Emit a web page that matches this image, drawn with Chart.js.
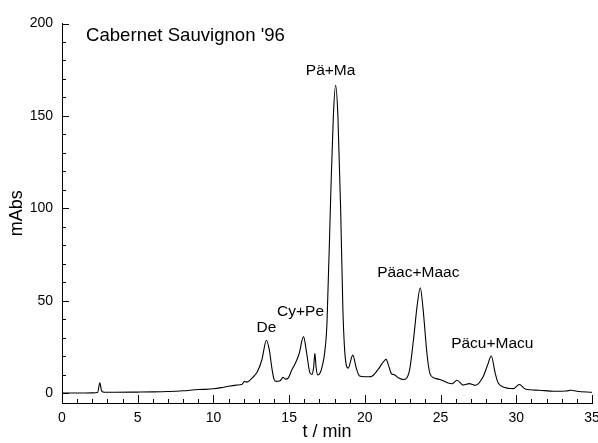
<!DOCTYPE html>
<html>
<head>
<meta charset="utf-8">
<title>Cabernet Sauvignon '96</title>
<script src="https://cdn.jsdelivr.net/npm/chart.js@4.4.1/dist/chart.umd.min.js"></script>
<style>
    html, body { margin: 0; padding: 0; background: #fff; }
    #wrap { width: 598px; height: 443px; position: relative; }
</style>
</head>
<body>
<div id="wrap"><canvas id="chromChart"></canvas></div>
<script>
// Chromatogramm: Retentionszeit (min) und Absorption (mAbs)
const times = [
    0, 1, 2, 2.35, 2.5, 2.62, 2.8, 3.5, 5, 6,
    7, 8, 9, 9.5, 10, 10.5, 11, 11.5, 11.9, 12.05,
    12.2, 12.6, 12.9, 13.2, 13.5, 13.7, 13.85, 14.0, 14.15, 14.4,
    14.6, 14.75, 14.95, 15.15, 15.4, 15.65, 15.95, 16.15, 16.35, 16.5,
    16.62, 16.7, 16.78, 16.88, 17.05, 17.2, 17.35, 17.5, 17.75, 17.92,
    18.07, 18.22, 18.4, 18.55, 18.72, 18.9, 19.2, 19.45, 19.65, 20.0,
    20.4, 20.85, 21.15, 21.4, 21.6, 21.75, 21.9, 22.0, 22.2, 22.6,
    22.95, 23.2, 23.45, 23.66, 23.85, 24.1, 24.3, 24.7, 24.95, 25.2,
    25.5, 25.75, 26.08, 26.5, 26.9, 27.3, 27.8, 28.1, 28.35, 28.6,
    28.8, 29.1, 29.8, 30.2, 30.6, 31.5, 32.5, 33.3, 33.6, 34.0,
    35
];
const mAbs = [
    0, 0, 0.1, 0.3, 5.5, 1.0, 0.4, 0.4, 0.5, 0.6,
    0.8, 1.2, 1.9, 2.0, 2.3, 2.9, 3.7, 4.3, 4.8, 6.3,
    5.9, 8.5, 11.5, 18, 28.6, 23, 14, 7.5, 6.3, 6.6,
    8.5, 7.5, 8.2, 12, 16, 21, 30.5, 22, 11.5, 10,
    14, 21.5, 14, 9.8, 11, 15, 22, 38, 108, 150,
    166.5, 150, 100, 45, 18, 13.5, 20.5, 13, 9.2, 8.8,
    8.9, 12.5, 16, 18.2, 14, 10.5, 10, 9.6, 8.3, 7.3,
    12.3, 28, 47, 57, 45, 21.4, 10.5, 7.8, 7.3, 6.5,
    5.4, 5.0, 6.9, 4.3, 5.1, 4.2, 8.7, 15, 20, 11,
    5.5, 3.4, 2.4, 4.6, 2.2, 1.5, 1.0, 1.1, 1.5, 1.0,
    0.4
];

// Peakzuordnung
const peakNames = ['De', 'Cy+Pe', 'Pä+Ma', 'Päac+Maac', 'Päcu+Macu'];
const peakTimes = [13.5, 15.95, 18.07, 23.66, 28.35];

// Achsenbeschriftung
const xTicks = [0, 5, 10, 15, 20, 25, 30, 35];
const yTicks = [0, 50, 100, 150, 200];

const FONT = "'Liberation Sans', Arial, Helvetica, sans-serif";

// Ticks nach innen, große alle 5 min / 50 mAbs, kleine dazwischen
const innerTicks = {
    id: 'innerTicks',
    afterDraw(chart) {
        const ctx = chart.ctx;
        const x = chart.scales.x;
        const y = chart.scales.y;
        const area = chart.chartArea;
        ctx.save();
        ctx.strokeStyle = '#000';
        ctx.lineWidth = 1;
        ctx.beginPath();
        for (let t = 1; t <= 35; t++) {
            const px = Math.round(x.getPixelForValue(t)) + 0.5;
            const len = t % 5 === 0 ? 8 : 4;
            ctx.moveTo(px, area.bottom);
            ctx.lineTo(px, area.bottom - len);
        }
        for (let v = 0; v <= 200; v += 10) {
            const py = Math.round(y.getPixelForValue(v)) + 0.5;
            const len = v % 50 === 0 ? 7 : 4;
            ctx.moveTo(area.left, py);
            ctx.lineTo(area.left + len, py);
        }
        ctx.stroke();
        ctx.restore();
    }
};

// Titel und Peaknamen
const chartLabels = {
    id: 'chartLabels',
    afterDatasetsDraw(chart) {
        const ctx = chart.ctx;
        const x = chart.scales.x;
        const y = chart.scales.y;
        const shift = [[0, 8], [-3, 21], [-5, 10], [-2, 11], [1, 8]];
        ctx.save();
        ctx.fillStyle = '#000';
        ctx.textBaseline = 'alphabetic';

        ctx.font = '18.6px ' + FONT;
        ctx.textAlign = 'left';
        ctx.fillText("Cabernet Sauvignon '96", 86, 41);

        ctx.font = '15.5px ' + FONT;
        ctx.textAlign = 'center';
        peakNames.forEach((name, i) => {
            const idx = times.indexOf(peakTimes[i]);
            const px = x.getPixelForValue(peakTimes[i]);
            const py = y.getPixelForValue(mAbs[idx]);
            ctx.fillText(name, px + shift[i][0], py - shift[i][1]);
        });
        ctx.restore();
    }
};

function createChart() {
    const ctx = document.getElementById('chromChart');

    new Chart(ctx, {
        type: 'line',
        data: {
            datasets: [{
                data: times.map((t, i) => ({ x: t, y: mAbs[i] })),
                borderColor: '#000',
                borderWidth: 1.1,
                pointRadius: 0,
                fill: false,
                cubicInterpolationMode: 'monotone'
            }]
        },
        options: {
            responsive: true,
            maintainAspectRatio: false,
            animation: false,
            layout: {
                padding: { top: 23.5, right: 6, left: 0, bottom: 0 }
            },
            plugins: {
                legend: { display: false },
                tooltip: { enabled: false }
            },
            scales: {
                x: {
                    type: 'linear',
                    min: 0,
                    max: 35,
                    afterBuildTicks: s => { s.ticks = xTicks.map(v => ({ value: v })); },
                    afterFit: s => { s.height = 40; s.paddingLeft = 0; s.paddingRight = 0; },
                    grid: { drawOnChartArea: false, drawTicks: false },
                    border: { display: true, color: '#000', width: 1 },
                    ticks: {
                        color: '#000',
                        padding: 7,
                        maxRotation: 0,
                        autoSkip: false,
                        font: { family: FONT, size: 14 }
                    },
                    title: {
                        display: true,
                        text: 't / min',
                        color: '#000',
                        padding: { top: 0, bottom: 0 },
                        font: { family: FONT, size: 18 }
                    }
                },
                y: {
                    type: 'linear',
                    min: -5.4,
                    max: 200,
                    afterBuildTicks: s => { s.ticks = yTicks.map(v => ({ value: v })); },
                    afterFit: s => { s.width = 62; s.paddingTop = 0; s.paddingBottom = 0; },
                    grid: { drawOnChartArea: false, drawTicks: false },
                    border: { display: true, color: '#000', width: 1 },
                    ticks: {
                        color: '#000',
                        padding: 9,
                        autoSkip: false,
                        font: { family: FONT, size: 14 }
                    },
                    title: {
                        display: true,
                        text: 'mAbs',
                        color: '#000',
                        padding: { top: 6, bottom: 0 },
                        font: { family: FONT, size: 18 }
                    }
                }
            }
        },
        plugins: [innerTicks, chartLabels]
    });
}

document.addEventListener('DOMContentLoaded', createChart);
</script>
</body>
</html>
